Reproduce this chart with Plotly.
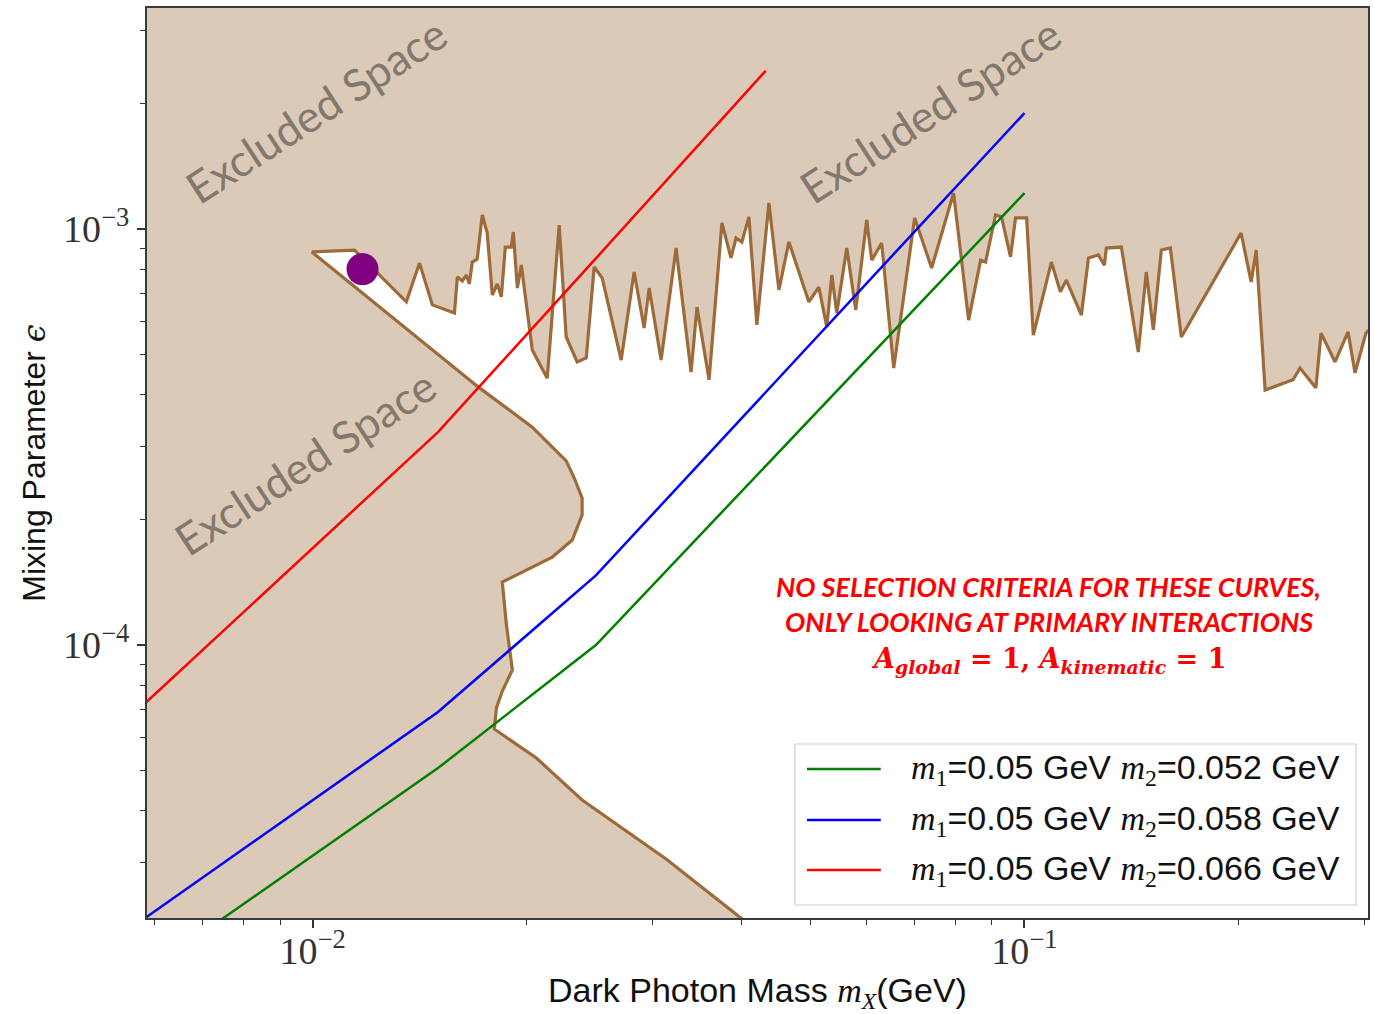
import math
import plotly.graph_objects as go

# ---------------- data ----------------
# allowed (white) region: upper jagged boundary, from the tip to the right edge
allowed_upper_mass = [0.00997, 0.01145, 0.01354, 0.01413, 0.01473, 0.01582, 0.01597, 0.01623, 0.01644, 0.0166,
                      0.01676, 0.01703, 0.01731, 0.01759, 0.01788, 0.01817, 0.01841, 0.01865, 0.01901, 0.01914,
                      0.01939, 0.01964, 0.02035, 0.02136, 0.0222, 0.02271, 0.02353, 0.02423, 0.02486, 0.02551,
                      0.02713, 0.02829, 0.02922, 0.0297, 0.03087, 0.0324, 0.03401, 0.03467, 0.03605, 0.03758,
                      0.0387, 0.03933, 0.04009, 0.04101, 0.04208, 0.04375, 0.04519, 0.04667, 0.04979, 0.05142,
                      0.05277, 0.05362, 0.05449, 0.05628, 0.05794, 0.06003, 0.06101, 0.06301, 0.06551, 0.0701,
                      0.07406, 0.07951, 0.08347, 0.08677, 0.08818, 0.09107, 0.09284, 0.09559, 0.09714, 0.1007,
                      0.1029, 0.1091, 0.1123, 0.1145, 0.1202, 0.123, 0.127, 0.1295, 0.1303, 0.1368,
                      0.1445, 0.1483, 0.1517, 0.1557, 0.1603, 0.1661, 0.2015, 0.2082, 0.2116, 0.2178,
                      0.2384, 0.2438, 0.2567, 0.261, 0.2731, 0.2848, 0.2913, 0.3018, 0.3346]
allowed_upper_eps = [8.81e-4, 8.90e-4, 6.68e-4, 8.28e-4, 6.57e-4, 6.28e-4, 7.67e-4, 7.50e-4, 7.75e-4, 7.38e-4,
                     8.33e-4, 8.47e-4, 1.081e-3, 9.78e-4, 6.94e-4, 7.38e-4, 6.87e-4, 9.05e-4, 9.05e-4, 9.83e-4,
                     7.21e-4, 8.19e-4, 5.12e-4, 4.38e-4, 1.022e-3, 5.50e-4, 4.79e-4, 4.90e-4, 8.10e-4, 7.63e-4,
                     4.84e-4, 7.88e-4, 5.78e-4, 7.21e-4, 4.84e-4, 9.00e-4, 4.53e-4, 6.49e-4, 4.34e-4, 1.034e-3,
                     8.52e-4, 9.51e-4, 9.31e-4, 1.069e-3, 5.88e-4, 1.155e-3, 7.14e-4, 9.31e-4, 6.68e-4, 7.25e-4,
                     5.81e-4, 7.75e-4, 6.28e-4, 9.00e-4, 6.39e-4, 1.051e-3, 8.42e-4, 9.25e-4, 4.63e-4, 1.063e-3,
                     8.06e-4, 1.220e-3, 6.04e-4, 8.42e-4, 8.33e-4, 1.081e-3, 1.069e-3, 8.57e-4, 1.063e-3, 1.063e-3,
                     5.56e-4, 8.33e-4, 7.06e-4, 7.54e-4, 6.21e-4, 8.52e-4, 8.66e-4, 8.19e-4, 9.00e-4, 9.05e-4,
                     5.06e-4, 7.88e-4, 5.72e-4, 8.90e-4, 9.00e-4, 5.50e-4, 9.78e-4, 7.46e-4, 8.90e-4, 4.10e-4,
                     4.34e-4, 4.63e-4, 4.15e-4, 5.62e-4, 4.79e-4, 5.66e-4, 4.51e-4, 5.62e-4, 6.75e-4]
# lower boundary, from below the x axis back up to the tip
allowed_lower_mass = [0.3346, 0.05311, 0.03996, 0.03137, 0.02584, 0.02391, 0.02062, 0.018, 0.01812, 0.01847,
                      0.01908, 0.01871, 0.01847, 0.01996, 0.02171, 0.02316, 0.02391, 0.02391, 0.02331, 0.02271,
                      0.02035, 0.01715, 0.00997]
allowed_lower_eps = [1.40e-5, 1.40e-5, 2.207e-5, 3.06e-5, 3.86e-5, 4.24e-5, 5.35e-5, 6.28e-5, 7.06e-5, 7.75e-5,
                     8.71e-5, 1.123e-4, 1.417e-4, 1.515e-4, 1.627e-4, 1.788e-4, 2.053e-4, 2.256e-4, 2.52e-4, 2.77e-4,
                     3.34e-4, 4.15e-4, 8.81e-4]

curve_mass = [0.005, 0.015, 0.025, 0.1]
red_mass = [0.005, 0.015, 0.025, 0.0433]
green_eps = [1.36e-5, 5.06e-5, 1.0e-4, 1.22e-3]
blue_eps = [1.84e-5, 6.90e-5, 1.47e-4, 1.90e-3]
red_eps = [5.70e-5, 3.25e-4, 8.5e-4, 2.40e-3]

series_names = ["m1=0.05 GeV m2=0.052 GeV", "m1=0.05 GeV m2=0.058 GeV", "m1=0.05 GeV m2=0.066 GeV"]
m2_labels = ["0.052", "0.058", "0.066"]

dot_mass = [0.01175]
dot_eps = [8.01e-4]

x_range = [0.005852, 0.3038]
y_range = [2.207e-5, 3.398e-3]
x_major = [0.01, 0.1]
x_major_text = ["10<sup>\u22122</sup>", "10<sup>\u22121</sup>"]
x_minor = [0.006, 0.007, 0.008, 0.009, 0.02, 0.03, 0.04, 0.05, 0.06, 0.07, 0.08, 0.09, 0.2, 0.3]
y_major = [1e-4, 1e-3]
y_major_text = ["10<sup>\u22124</sup>", "10<sup>\u22123</sup>"]
y_minor = [3e-5, 4e-5, 5e-5, 6e-5, 7e-5, 8e-5, 9e-5, 2e-4, 3e-4, 4e-4, 5e-4, 6e-4, 7e-4, 8e-4, 9e-4, 2e-3, 3e-3]

# ---------------- styling ----------------
TAN = "#dccab8"
BROWN = "#9d6b3a"
GREEN = "#008000"
BLUE = "#0000ff"
RED = "#ff0000"
GRAYTXT = "#82786e"
SERIF = "Liberation Serif"
SANS = "Liberation Sans"

fig = go.Figure()

fig.add_trace(go.Scatter(
    x=allowed_upper_mass + allowed_lower_mass,
    y=allowed_upper_eps + allowed_lower_eps,
    mode="lines", fill="toself", fillcolor="white",
    line=dict(color=BROWN, width=3.2), hoverinfo="skip", showlegend=False))

fig.add_trace(go.Scatter(x=curve_mass, y=green_eps, mode="lines", name=series_names[0],
                         line=dict(color=GREEN, width=2.5), showlegend=False))
fig.add_trace(go.Scatter(x=curve_mass, y=blue_eps, mode="lines", name=series_names[1],
                         line=dict(color=BLUE, width=2.5), showlegend=False))
fig.add_trace(go.Scatter(x=red_mass, y=red_eps, mode="lines", name=series_names[2],
                         line=dict(color=RED, width=2.5), showlegend=False))
fig.add_trace(go.Scatter(x=dot_mass, y=dot_eps, mode="markers",
                         marker=dict(color="#800080", size=32, line=dict(width=0)),
                         showlegend=False))

W, H = 1375, 1014
ML, MR, MT, MB = 147, 5, 8, 96
pw, ph = W - ML - MR, H - MT - MB


def px(xp):
    return (xp - ML) / pw


def py(yp):
    return (H - MB - yp) / ph


annotations = []
for (cx, cy) in [(316, 110), (931, 110), (305, 462)]:
    annotations.append(dict(x=px(cx), y=py(cy), xref="paper", yref="paper", text="Excluded Space",
                            showarrow=False, textangle=-33, xanchor="center", yanchor="middle",
                            font=dict(family="Lato", size=44, color=GRAYTXT)))

note_font = dict(family="Lato", size=27, color=RED)
annotations.append(dict(x=px(1050), y=py(586), xref="paper", yref="paper",
                        text="<b><i>NO SELECTION CRITERIA FOR THESE CURVES,</i></b>",
                        showarrow=False, font=note_font, xanchor="center", yanchor="middle"))
annotations.append(dict(x=px(1050), y=py(621), xref="paper", yref="paper",
                        text="<b><i>ONLY LOOKING AT PRIMARY INTERACTIONS</i></b>",
                        showarrow=False, font=note_font, xanchor="center", yanchor="middle"))
annotations.append(dict(x=px(1050), y=py(660), xref="paper", yref="paper",
                        text="<b><i>A</i><sub><i>global</i></sub> = 1, <i>A</i><sub><i>kinematic</i></sub> = 1</b>",
                        showarrow=False, font=dict(family="DejaVu Serif", size=27, color=RED),
                        xanchor="center", yanchor="middle"))

# legend (drawn manually to match the long line samples)
shapes = [dict(type="rect", xref="paper", yref="paper", x0=px(796), x1=px(1358), y0=py(905), y1=py(744),
               line=dict(color="#d0d0d0", width=1.2), fillcolor="white", layer="above")]
leg_colors = [GREEN, BLUE, RED]
leg_rows = [769, 820, 870]
mspan = '<span style="font-family:Liberation Serif"><i>m</i><sub>{}</sub></span>'
for c, r, m2 in zip(leg_colors, leg_rows, m2_labels):
    shapes.append(dict(type="line", xref="paper", yref="paper", x0=px(808), x1=px(882), y0=py(r), y1=py(r),
                       line=dict(color=c, width=2.5), layer="above"))
    annotations.append(dict(x=px(910), y=py(r), xref="paper", yref="paper", showarrow=False,
                            xanchor="left", yanchor="middle",
                            text=mspan.format(1) + "=0.05 GeV " + mspan.format(2) + "=" + m2 + " GeV",
                            font=dict(family=SANS, size=34, color="#111")))

axis_common = dict(type="log", showline=True, mirror=True, linecolor="#3a3a3a", linewidth=2,
                   ticks="outside", ticklen=8, tickwidth=1.5, tickcolor="#333", showgrid=False,
                   zeroline=False, tickfont=dict(family=SERIF, size=38, color="#333"))

fig.update_layout(
    width=W, height=H,
    margin=dict(l=ML, r=MR, t=MT, b=MB),
    paper_bgcolor="white", plot_bgcolor=TAN,
    showlegend=False,
    xaxis=dict(axis_common, range=[math.log10(x_range[0]), math.log10(x_range[1])],
               tickvals=x_major, ticktext=x_major_text, ticklabelstandoff=-10,
               minor=dict(tickvals=x_minor, ticks="outside", ticklen=5, tickwidth=1.2, tickcolor="#333"),
               title=dict(text='Dark Photon Mass <span style="font-family:Liberation Serif"><i>m</i><sub><i>X</i></sub></span>(GeV)',
                          font=dict(family=SANS, size=34, color="#111"), standoff=10)),
    yaxis=dict(axis_common, range=[math.log10(y_range[0]), math.log10(y_range[1])],
               tickvals=y_major, ticktext=y_major_text,
               minor=dict(tickvals=y_minor, ticks="outside", ticklen=5, tickwidth=1.2, tickcolor="#333"),
               title=dict(text='Mixing Parameter <span style="font-family:DejaVu Serif"><i>\u03f5</i></span>',
                          font=dict(family=SANS, size=32, color="#111"), standoff=8)),
    annotations=annotations,
    shapes=shapes,
)

fig.write_html("out.html")
